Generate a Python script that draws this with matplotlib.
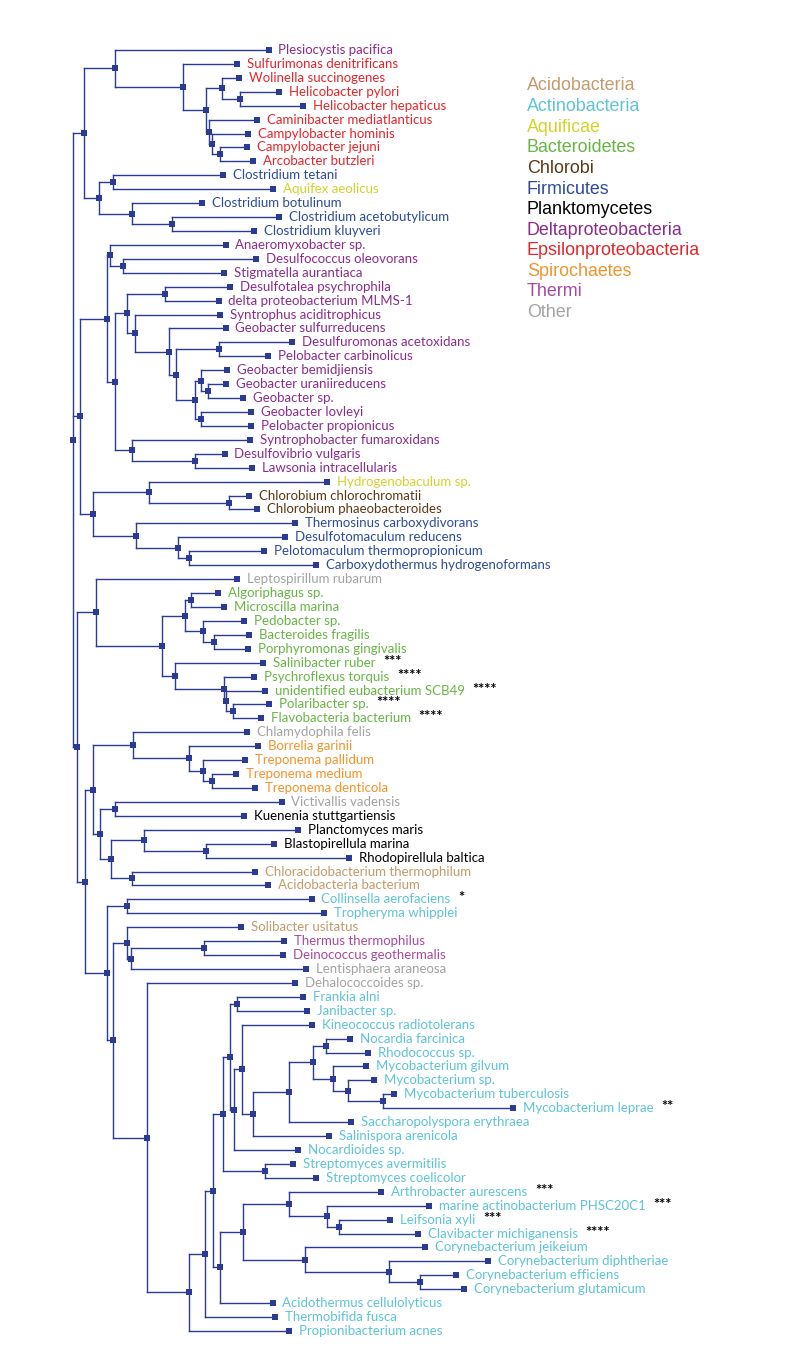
import matplotlib
matplotlib.use("Agg")
import matplotlib.pyplot as plt
from matplotlib.collections import LineCollection

# ---------------------------------------------------------------- data
# Newick-style tree; the number after ':' is each node's horizontal
# distance from the root.
tree_newick = """
((
 (Plesiocystis pacifica:195.4,
  (Sulfurimonas denitrificans:163.7,
   ((Wolinella succinogenes:165.7,(Helicobacter pylori:205.7,Helicobacter hepaticus:229.7):167.0):149.0,
    (Caminibacter mediatlanticus:183.7,(Campylobacter hominis:174.7,(Campylobacter jejuni:173.7,Arcobacter butzleri:179.7):147.0):139.0):135.4
   ):133.0
  ):110.0
 ):41.4,
 ((Clostridium tetani:149.7,Aquifex aeolicus:199.7):40.0,
  (Clostridium botulinum:128.7,(Clostridium acetobutylicum:205.7,Clostridium kluyveri:180.7):99.0):59.0
 ):26.0
):11.0,
(
 ((Anaeromyxobacter sp.:152.4,(Desulfococcus oleovorans:183.0,Stigmatella aurantiaca:151.0):50.0):36.7,
  (
   ((Desulfotalea psychrophila:157.0,delta proteobacterium MLMS-1:145.4):91.4,
    (Syntrophus aciditrophicus:147.0,
     (Geobacter sulfurreducens:152.4,
      ((Desulfuromonas acetoxidans:219.0,Pelobacter carbinolicus:195.0):146.0,
       ((Geobacter bemidjiensis:154.0,(Geobacter uraniireducens:153.0,Geobacter sp.:170.0):135.0):128.0,
        (Geobacter lovleyi:178.0,Pelobacter propionicus:178.0):128.0):122.0
      ):103.0
     ):96.0
    ):62.0
   ):54.0,
   (Syntrophobacter fumaroxidans:177.0,(Desulfovibrio vulgaris:151.4,Lawsonia intracellularis:179.0):122.0):59.0
  ):42.0
 ):34.0,
 ((Hydrogenobaculum sp.:254.0,(Chlorobium chlorochromatii:176.0,Chlorobium phaeobacteroides:184.0):156.0):76.0,
  (Thermosinus carboxydivorans:222.0,(Desulfotomaculum reducens:212.0,(Pelotomaculum thermopropionicum:191.0,Carboxydothermus hydrogenoformans:243.0):115.4):105.0):63.0
 ):20.0
):7.0,
(
 (Leptospirillum rubarum:164.0,
  (((Algoriphagus sp.:145.0,Microscilla marina:151.0):118.0,(Pedobacter sp.:171.0,(Bacteroides fragilis:176.0,Porphyromonas gingivalis:175.0):141.0):130.0):112.0,
   (Salinibacter ruber:190.0,(Psychroflexus torquis:181.0,(unidentified eubacterium SCB49:192.0,(Polaribacter sp.:196.0,Flavobacteria bacterium:188.0):160.0):153.0):151.0):102.0
  ):89.0
 ):23.0,
 (
  ((Chlamydophila felis:174.0,(Borrelia garinii:185.0,(Treponema pallidum:172.0,(Treponema medium:163.0,Treponema denticola:182.0):139.0):130.0):115.4):59.4,
   ((Victivallis vadensis:208.4,Kuenenia stuttgartiensis:171.0):42.0,
    ((Planctomyces maris:225.0,(Blastopirellula marina:201.0,Rhodopirellula baltica:276.0):133.0):71.0,
     (Chloracidobacterium thermophilum:182.0,Acidobacteria bacterium:195.0):59.0):38.0
   ):27.0
  ):20.0,
  ((Collinsella aerofaciens:238.4,Tropheryma whipplei:251.0):54.0,
   ((Solibacter usitatus:168.0,((Thermus thermophilus:211.0,Deinococcus geothermalis:210.0):131.0,Lentisphaera araneosa:233.0):58.0):54.0,
    (Dehalococcoides sp.:222.0,
     ((((
        ((Frankia alni:230.0,Janibacter sp.:234.0):164.0,
         ((Kineococcus radiotolerans:239.0,
           ((((Nocardia farcinica:277.0,Rhodococcus sp.:295.0):253.0,
              (Mycobacterium gilvum:293.0,(Mycobacterium sp.:301.0,(Mycobacterium tuberculosis:321.0,Mycobacterium leprae:440.0):310.0):275.0):260.0
             ):240.0,Saccharopolyspora erythraea:278.0):216.0,
            Salinispora arenicola:256.0):180.0
          ):169.0,
          Nocardioides sp.:225.0):161.0
        ):157.0,
        (Streptomyces avermitilis:220.0,Streptomyces coelicolor:243.0):192.0
       ):150.0,
       (((Arthrobacter aurescens:308.0,(marine actinobacterium PHSC20C1:356.0,(Leifsonia xyli:317.0,Clavibacter michiganensis:345.0):266.0):254.0):216.0,
         (Corynebacterium jeikeium:352.0,(Corynebacterium diphtheriae:415.0,(Corynebacterium efficiens:383.0,Corynebacterium glutamicum:391.0):347.0):316.0):232.0
        ):170.0,
        Acidothermus cellulolyticus:199.4):147.0
      ):140.0,
      Thermobifida fusca:202.0):132.0,
     Propionibacterium acnes:216.0):116.0
    ):74.0
   ):40.0
  ):34.0
 ):12.0
):4.0
):0;
"""

legend_groups = ["Acidobacteria", "Actinobacteria", "Aquificae", "Bacteroidetes",
                 "Chlorobi", "Firmicutes", "Planktomycetes", "Deltaproteobacteria",
                 "Epsilonproteobacteria", "Spirochaetes", "Thermi", "Other"]
group_colors = ["#C49A6C", "#5EC4D4", "#D2D32A", "#68B544",
                "#5A3816", "#2F4B98", "#000000", "#8A2C8C",
                "#E3262B", "#F0942C", "#A84A9C", "#A3A3A3"]

group_members = {
    "Acidobacteria": ["Chloracidobacterium thermophilum", "Acidobacteria bacterium",
                      "Solibacter usitatus"],
    "Actinobacteria": ["Collinsella aerofaciens", "Tropheryma whipplei", "Frankia alni",
                       "Janibacter sp.", "Kineococcus radiotolerans", "Nocardia farcinica",
                       "Rhodococcus sp.", "Mycobacterium gilvum", "Mycobacterium sp.",
                       "Mycobacterium tuberculosis", "Mycobacterium leprae",
                       "Saccharopolyspora erythraea", "Salinispora arenicola",
                       "Nocardioides sp.", "Streptomyces avermitilis",
                       "Streptomyces coelicolor", "Arthrobacter aurescens",
                       "marine actinobacterium PHSC20C1", "Leifsonia xyli",
                       "Clavibacter michiganensis", "Corynebacterium jeikeium",
                       "Corynebacterium diphtheriae", "Corynebacterium efficiens",
                       "Corynebacterium glutamicum", "Acidothermus cellulolyticus",
                       "Thermobifida fusca", "Propionibacterium acnes"],
    "Aquificae": ["Aquifex aeolicus", "Hydrogenobaculum sp."],
    "Bacteroidetes": ["Algoriphagus sp.", "Microscilla marina", "Pedobacter sp.",
                      "Bacteroides fragilis", "Porphyromonas gingivalis",
                      "Salinibacter ruber", "Psychroflexus torquis",
                      "unidentified eubacterium SCB49", "Polaribacter sp.",
                      "Flavobacteria bacterium"],
    "Chlorobi": ["Chlorobium chlorochromatii", "Chlorobium phaeobacteroides"],
    "Firmicutes": ["Clostridium tetani", "Clostridium botulinum",
                   "Clostridium acetobutylicum", "Clostridium kluyveri",
                   "Thermosinus carboxydivorans", "Desulfotomaculum reducens",
                   "Pelotomaculum thermopropionicum", "Carboxydothermus hydrogenoformans"],
    "Planktomycetes": ["Kuenenia stuttgartiensis", "Planctomyces maris",
                       "Blastopirellula marina", "Rhodopirellula baltica"],
    "Deltaproteobacteria": ["Plesiocystis pacifica", "Anaeromyxobacter sp.",
                            "Desulfococcus oleovorans", "Stigmatella aurantiaca",
                            "Desulfotalea psychrophila", "delta proteobacterium MLMS-1",
                            "Syntrophus aciditrophicus", "Geobacter sulfurreducens",
                            "Desulfuromonas acetoxidans", "Pelobacter carbinolicus",
                            "Geobacter bemidjiensis", "Geobacter uraniireducens",
                            "Geobacter sp.", "Geobacter lovleyi", "Pelobacter propionicus",
                            "Syntrophobacter fumaroxidans", "Desulfovibrio vulgaris",
                            "Lawsonia intracellularis"],
    "Epsilonproteobacteria": ["Sulfurimonas denitrificans", "Wolinella succinogenes",
                              "Helicobacter pylori", "Helicobacter hepaticus",
                              "Caminibacter mediatlanticus", "Campylobacter hominis",
                              "Campylobacter jejuni", "Arcobacter butzleri"],
    "Spirochaetes": ["Borrelia garinii", "Treponema pallidum", "Treponema medium",
                     "Treponema denticola"],
    "Thermi": ["Thermus thermophilus", "Deinococcus geothermalis"],
    "Other": ["Leptospirillum rubarum", "Chlamydophila felis", "Victivallis vadensis",
              "Lentisphaera araneosa", "Dehalococcoides sp."],
}

asterisks = {
    "Salinibacter ruber": "***",
    "Psychroflexus torquis": "****",
    "unidentified eubacterium SCB49": "****",
    "Polaribacter sp.": "****",
    "Flavobacteria bacterium": "****",
    "Collinsella aerofaciens": "*",
    "Mycobacterium leprae": "**",
    "Arthrobacter aurescens": "***",
    "marine actinobacterium PHSC20C1": "***",
    "Leifsonia xyli": "***",
    "Clavibacter michiganensis": "****",
}


# ---------------------------------------------------------------- parse tree
def parse_newick(text):
    s = " ".join(text.split()).strip().rstrip(";")
    pos = 0

    def skip():
        nonlocal pos
        while pos < len(s) and s[pos] == " ":
            pos += 1

    def node():
        nonlocal pos
        skip()
        nd = {"children": [], "name": None, "depth": 0.0}
        if s[pos] == "(":
            pos += 1
            while True:
                nd["children"].append(node())
                skip()
                if s[pos] == ",":
                    pos += 1
                    continue
                if s[pos] == ")":
                    pos += 1
                    break
        start = pos
        while pos < len(s) and s[pos] not in ",():":
            pos += 1
        name = s[start:pos].strip()
        if name:
            nd["name"] = name
        if pos < len(s) and s[pos] == ":":
            pos += 1
            start = pos
            while pos < len(s) and s[pos] not in ",()":
                pos += 1
            nd["depth"] = float(s[start:pos])
        return nd

    return node()


root = parse_newick(tree_newick)

leaves = []


def assign_y(nd):
    if not nd["children"]:
        nd["y"] = float(len(leaves))
        leaves.append(nd)
    else:
        for c in nd["children"]:
            assign_y(c)
        nd["y"] = 0.5 * (nd["children"][0]["y"] + nd["children"][-1]["y"])


assign_y(root)

segments, nodes_xy = [], []


def collect(nd):
    nodes_xy.append((nd["depth"], nd["y"]))
    if nd["children"]:
        segments.append([(nd["depth"], nd["children"][0]["y"]),
                         (nd["depth"], nd["children"][-1]["y"])])
        for c in nd["children"]:
            segments.append([(nd["depth"], c["y"]), (c["depth"], c["y"])])
            collect(c)


collect(root)

leaf_color = {}
for g, col in zip(legend_groups, group_colors):
    for m in group_members[g]:
        leaf_color[m] = col

# ---------------------------------------------------------------- draw
W, H, DPI = 792, 1368, 100
fig = plt.figure(figsize=(W / DPI, H / DPI), dpi=DPI)
ax = fig.add_axes([0, 0, 1, 1])
ax.set_axis_off()

root_px = 73.3          # pixel column of the root
top_px, step_px = 50.0, 13.924
ax.set_xlim(-root_px, W - root_px)
ax.set_ylim((H - top_px) / step_px, -top_px / step_px)

tree_col = "#2B3A92"
ax.add_collection(LineCollection(segments, colors=tree_col, linewidths=1.0,
                                 capstyle="projecting"))
xs, ys = zip(*nodes_xy)
ax.plot(xs, ys, ls="none", marker="s", ms=4.0, color=tree_col, mew=0)

label_font = ["Lato", "DejaVu Sans"]
for lf in leaves:
    nm = lf["name"]
    t = ax.annotate(nm, xy=(lf["depth"], lf["y"]), xytext=(7.0, 0),
                    textcoords="offset points", va="center", ha="left",
                    fontsize=9.5, family=label_font, color=leaf_color.get(nm, "k"))
    if nm in asterisks:
        ax.annotate(asterisks[nm], xy=(1, 0), xycoords=t, xytext=(5.5, 0),
                    textcoords="offset points", va="bottom", ha="left",
                    fontsize=10.5, fontweight="bold", family=label_font,
                    color="black")

for i, (g, col) in enumerate(zip(legend_groups, group_colors)):
    ypx = 86.0 + i * 20.6
    fig.text(527 / W, 1 - ypx / H, g, color=col, fontsize=12.9,
             family=["Liberation Sans", "DejaVu Sans"], va="center", ha="left")

fig.savefig("out.png", dpi=DPI, facecolor="white")
